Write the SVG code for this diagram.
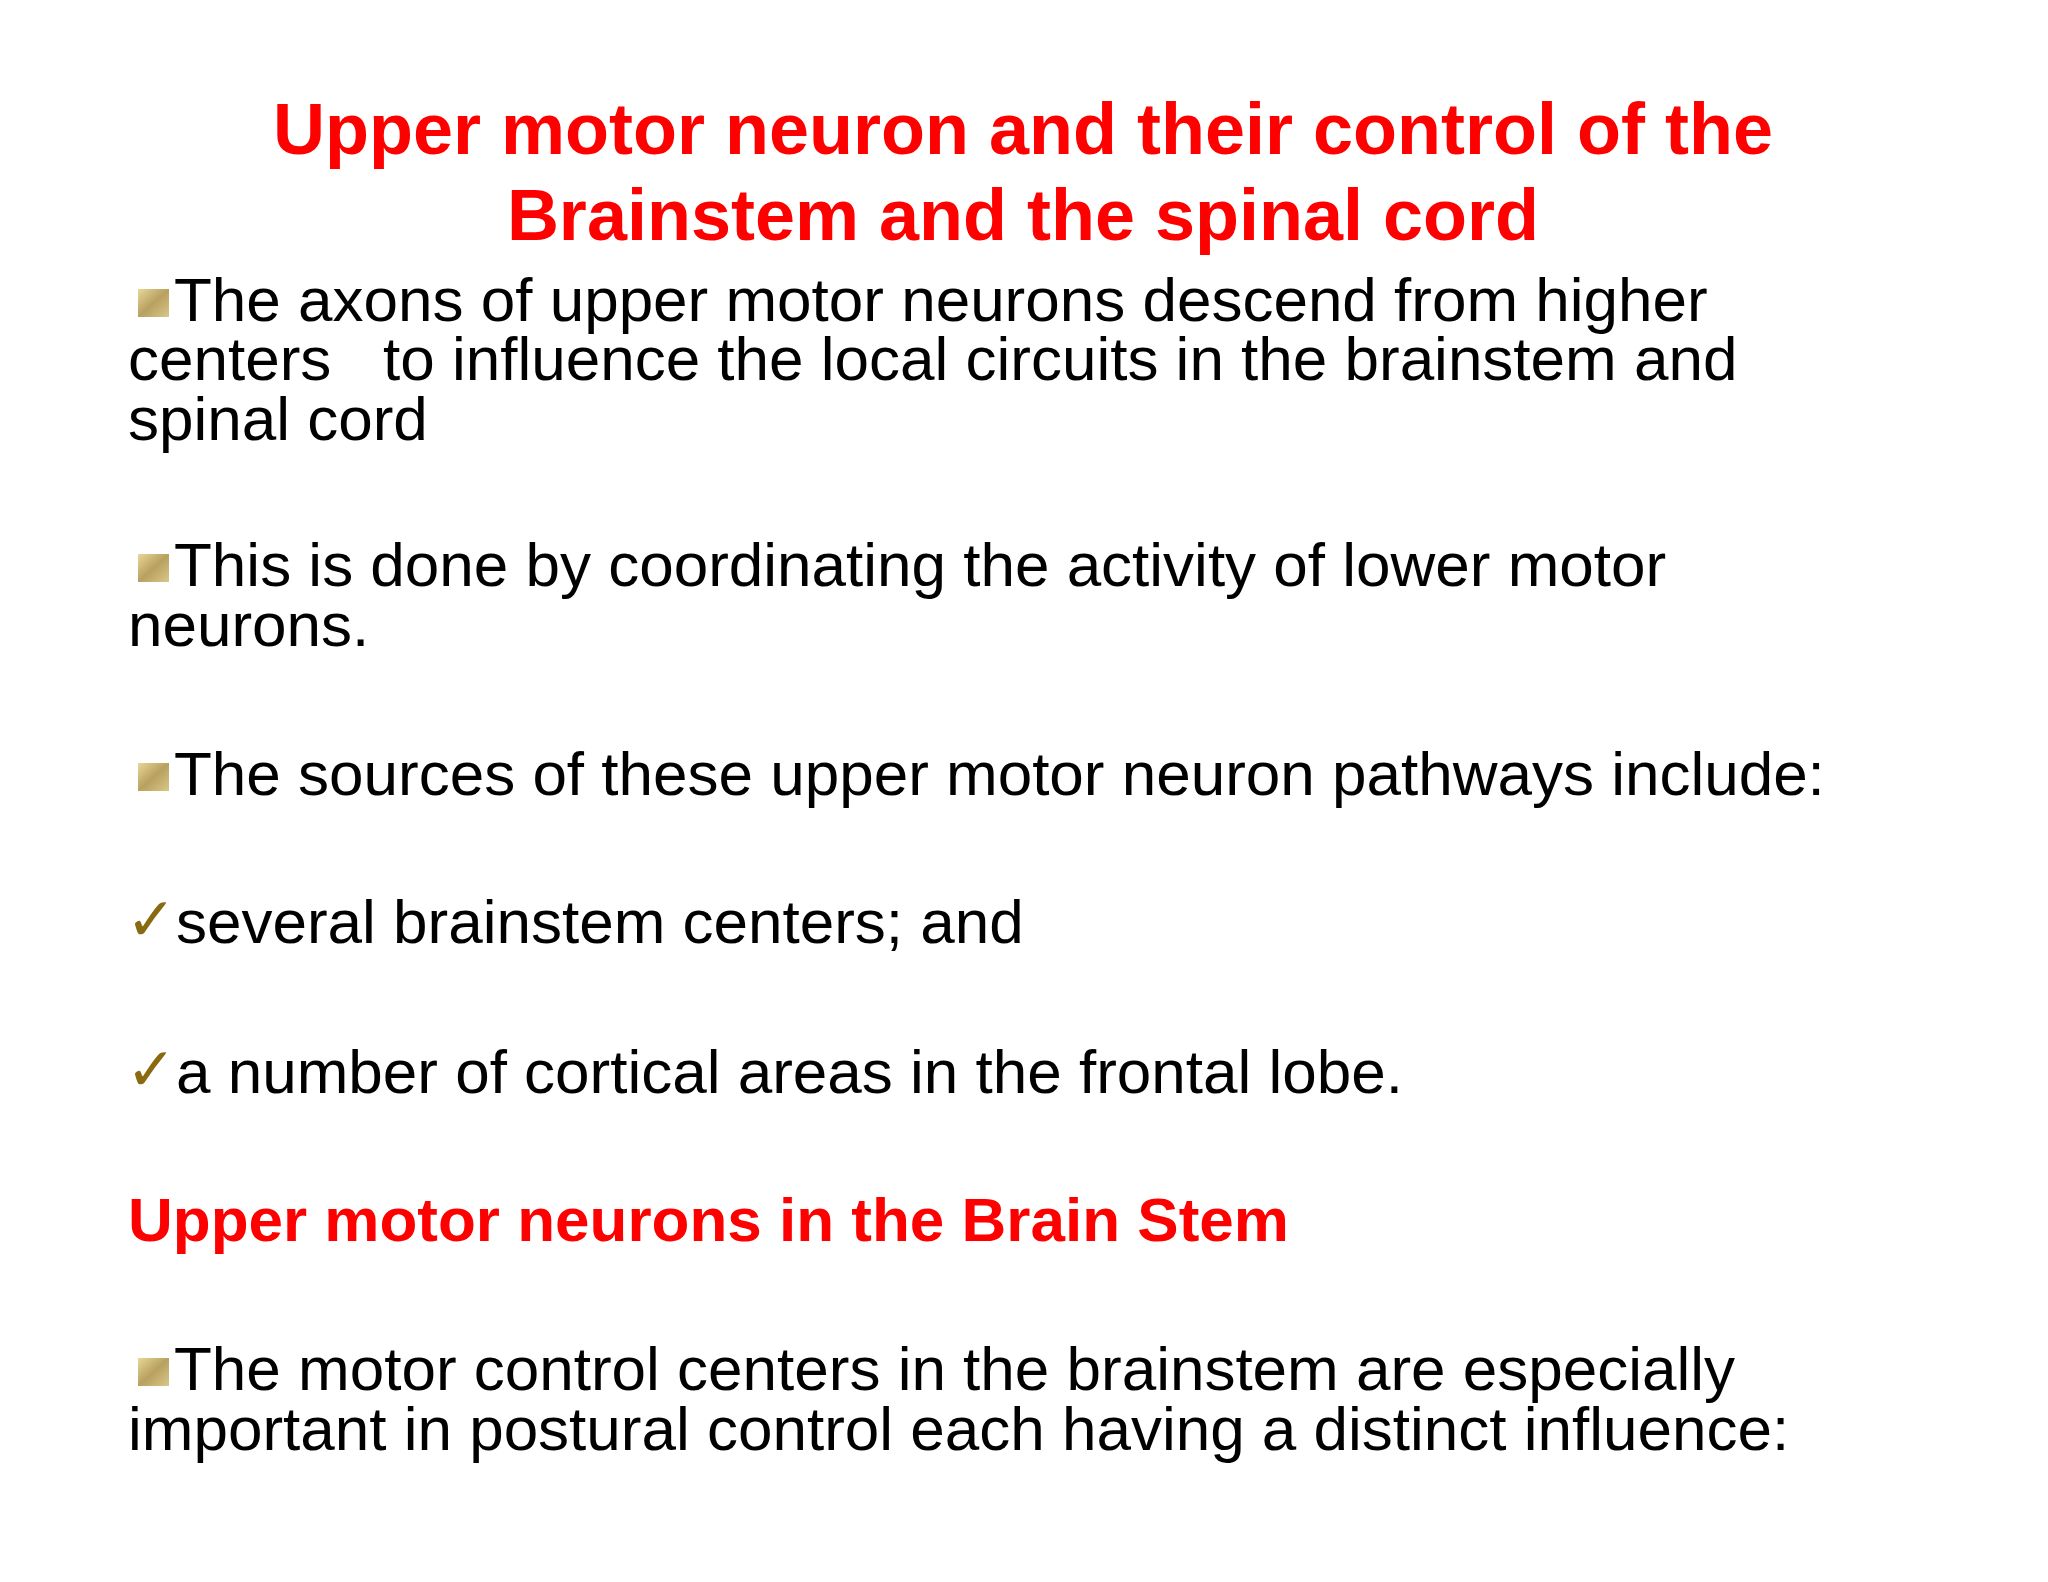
<svg xmlns="http://www.w3.org/2000/svg" width="2048" height="1582" viewBox="0 0 2048 1582">
<defs>
<linearGradient id="g" x1="0" y1="0" x2="1" y2="1"><stop offset="0" stop-color="#e8d89a"/><stop offset="0.5" stop-color="#b8a060"/><stop offset="1" stop-color="#d8c888"/></linearGradient>
</defs>
<style>
.t{font-family:"Liberation Sans",Arial,sans-serif;font-weight:bold;fill:#ff0000;font-size:72px}
.b{font-family:"Liberation Sans",Arial,sans-serif;fill:#000;font-size:62px}
.h{font-family:"Liberation Sans",Arial,sans-serif;font-weight:bold;fill:#ff0000;font-size:62px}
.c{font-family:"DejaVu Sans",sans-serif;font-weight:bold;fill:#8a6a10;font-size:60px}
</style>
<rect width="2048" height="1582" fill="#fff"/>
<g id="title">
<text class="t" x="1023" y="154" text-anchor="middle">Upper motor neuron and their control of the</text>
<text class="t" x="1023" y="240" text-anchor="middle">Brainstem and the spinal cord</text>
</g>
<g id="p1">
<rect x="138" y="289" width="31" height="28" fill="url(#g)"/>
<text class="b" x="174" y="321">The axons of upper motor neurons descend from higher</text>
<text class="b" x="128" y="380" xml:space="preserve">centers   to influence the local circuits in the brainstem and</text>
<text class="b" x="128" y="440">spinal cord</text>
</g>
<g id="p2">
<rect x="138" y="554" width="31" height="28" fill="url(#g)"/>
<text class="b" x="174" y="586">This is done by coordinating the activity of lower motor</text>
<text class="b" x="128" y="646">neurons.</text>
</g>
<g id="p3">
<rect x="138" y="763" width="31" height="28" fill="url(#g)"/>
<text class="b" x="174" y="795">The sources of these upper motor neuron pathways include:</text>
</g>
<g id="c1">
<text class="c" x="126" y="940">✓</text>
<text class="b" x="176" y="943">several brainstem centers; and</text>
</g>
<g id="c2">
<text class="c" x="126" y="1090">✓</text>
<text class="b" x="176" y="1093">a number of cortical areas in the frontal lobe.</text>
</g>
<g id="heading">
<text class="h" x="128" y="1241">Upper motor neurons in the Brain Stem</text>
</g>
<g id="p4">
<rect x="138" y="1358" width="31" height="28" fill="url(#g)"/>
<text class="b" x="174" y="1390">The motor control centers in the brainstem are especially</text>
<text class="b" x="128" y="1450">important in postural control each having a distinct influence:</text>
</g>
</svg>
